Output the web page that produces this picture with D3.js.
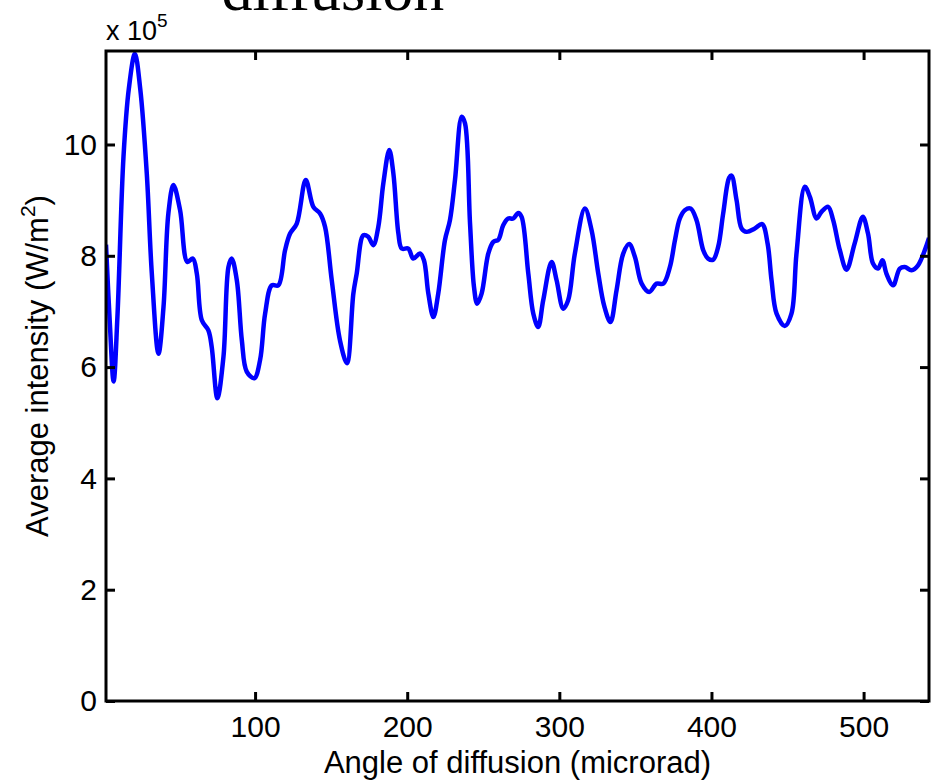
<!DOCTYPE html>
<html>
<head>
<meta charset="utf-8">
<script src="https://cdn.jsdelivr.net/npm/d3@7"></script>
<style>
  body { margin: 0; background: #fff; }
  svg text { font-family: "Liberation Sans", Arial, sans-serif; fill: #000; }
</style>
</head>
<body>
<div id="chart"></div>
<script>
// angle of diffusion (microrad)
var angles = [2.0, 4.5, 7.0, 9.5, 13.5, 17.0, 21.0, 24.5, 28.8, 32.1, 36.5, 39.8, 43.0, 46.3, 50.7,
  55.5, 59.1, 61.7, 65.0, 69.3, 71.5, 75.2, 79.2, 82.5, 84.6, 88.0, 91.3, 94.5, 99.5, 103.3,
  106.6, 111.0, 115.3, 119.7, 123.0, 127.4, 133.3, 138.3, 142.7, 146.0, 150.4, 155.8, 160.4, 164.6, 166.8,
  171.2, 174.4, 177.7, 181.0, 184.3, 188.2, 190.9, 194.2, 196.4, 200.7, 204.0, 208.4, 211.0, 213.9, 217.2,
  220.4, 224.8, 228.1, 231.4, 235.8, 238.0, 241.3, 243.9, 246.0, 248.9, 253.3, 256.6, 259.9, 263.1, 266.4,
  269.7, 273.0, 275.2, 279.6, 282.9, 286.1, 289.4, 294.9, 298.2, 302.6, 305.8, 310.2, 316.8, 321.2, 325.6,
  329.5, 333.6, 337.6, 342.0, 345.9, 349.7, 354.1, 359.1, 363.9, 368.3, 372.7, 376.0, 379.2, 382.5, 386.3,
  390.2, 394.6, 397.8, 401.1, 404.4, 407.7, 411.6, 413.2, 416.5, 419.8, 423.1, 428.5, 433.3, 436.9, 439.5,
  442.8, 448.2, 452.6, 455.9, 461.4, 464.7, 469.1, 472.3, 476.7, 480.0, 484.4, 488.8, 494.1, 499.5, 502.9,
  506.2, 509.5, 512.4, 515.0, 519.4, 523.8, 527.1, 531.5, 535.8, 541.8, 543.0];

// average intensity, in units of 10^5 W/m^2
var intensity = [8.20, 6.80, 5.74, 6.90, 9.78, 11.00, 11.63, 11.00, 9.48, 7.69, 6.24, 7.08, 8.76, 9.27, 8.82,
  7.89, 7.95, 7.68, 6.84, 6.66, 6.36, 5.44, 6.18, 7.80, 7.95, 7.56, 6.48, 5.92, 5.80, 6.13,
  6.96, 7.47, 7.47, 8.10, 8.40, 8.58, 9.36, 8.88, 8.76, 8.52, 7.56, 6.48, 6.07, 7.32, 7.68,
  8.37, 8.34, 8.19, 8.52, 9.30, 9.90, 9.48, 8.40, 8.13, 8.13, 7.95, 8.04, 7.92, 7.32, 6.90,
  7.32, 8.28, 8.64, 9.36, 10.50, 10.38, 8.58, 7.44, 7.14, 7.32, 8.04, 8.25, 8.29, 8.55, 8.67,
  8.67, 8.77, 8.70, 7.68, 6.96, 6.72, 7.20, 7.89, 7.56, 7.05, 7.20, 8.04, 8.85, 8.46, 7.68,
  7.10, 6.81, 7.38, 8.04, 8.21, 7.98, 7.50, 7.35, 7.50, 7.50, 7.80, 8.28, 8.67, 8.82, 8.85,
  8.64, 8.10, 7.95, 7.93, 8.16, 8.76, 9.40, 9.44, 9.00, 8.49, 8.43, 8.49, 8.57, 8.22, 7.56,
  6.96, 6.74, 6.96, 8.04, 9.24, 9.06, 8.67, 8.79, 8.88, 8.64, 8.10, 7.75, 8.22, 8.70, 8.40,
  7.86, 7.77, 7.92, 7.68, 7.47, 7.77, 7.80, 7.74, 7.83, 8.22, 8.32];

var xTicks = [100, 200, 300, 400, 500];
var yTicks = [0, 2, 4, 6, 8, 10];

var width = 936, height = 780;
var margin = {top: 51, right: 7, bottom: 79, left: 106};
var plotW = width - margin.left - margin.right,
    plotH = height - margin.top - margin.bottom;

var data = angles.map(function (a, i) {
  return {x: a, y: intensity[i]};
});

var xScale = d3.scaleLinear()
  .domain([2, 543])
  .range([0, plotW]);
var yScale = d3.scaleLinear()
  .domain([0, 11.68])
  .range([plotH, 0]);

var svg = d3.select("#chart").append("svg")
  .attr("width", width)
  .attr("height", height);

// title, cut off at the top of the figure
svg.append("text")
  .attr("x", 333)
  .attr("y", 10)
  .attr("text-anchor", "middle")
  .style("font-family", "'Liberation Serif', 'Times New Roman', serif")
  .style("font-size", "62px")
  .text("diffusion");

var g = svg.append("g")
  .attr("transform", "translate(" + margin.left + "," + margin.top + ")");

g.append("clipPath")
  .attr("id", "plot-clip")
  .append("rect")
    .attr("width", plotW)
    .attr("height", plotH);

var line = d3.line()
  .x(function (d) { return xScale(d.x); })
  .y(function (d) { return yScale(d.y); })
  .curve(d3.curveCatmullRom.alpha(0.5));

g.append("path")
  .datum(data)
  .attr("clip-path", "url(#plot-clip)")
  .attr("d", line)
  .attr("fill", "none")
  .attr("stroke", "#0000ff")
  .attr("stroke-width", 4.5)
  .attr("stroke-linejoin", "round");

// axes, ticks pointing inwards on all four sides
function styleAxis(sel) {
  sel.select(".domain").remove();
  sel.selectAll(".tick line").attr("stroke", "#000").attr("stroke-width", 3);
  sel.selectAll(".tick text").style("font-size", "30px");
}

g.append("g")
  .attr("transform", "translate(0," + plotH + ")")
  .call(d3.axisBottom(xScale).tickValues(xTicks).tickSizeInner(-9).tickPadding(15))
  .call(styleAxis);
g.append("g")
  .call(d3.axisTop(xScale).tickValues(xTicks).tickSizeInner(-9).tickFormat(""))
  .call(styleAxis);
g.append("g")
  .call(d3.axisLeft(yScale).tickValues(yTicks).tickSizeInner(-9).tickPadding(9))
  .call(styleAxis);
g.append("g")
  .attr("transform", "translate(" + plotW + ",0)")
  .call(d3.axisRight(yScale).tickValues(yTicks).tickSizeInner(-9).tickFormat(""))
  .call(styleAxis);

g.append("rect")
  .attr("width", plotW)
  .attr("height", plotH)
  .attr("fill", "none")
  .attr("stroke", "#000")
  .attr("stroke-width", 3);

// exponent label
var expo = svg.append("text")
  .attr("x", margin.left)
  .attr("y", 40)
  .style("font-size", "27px")
  .text("x 10");
expo.append("tspan")
  .attr("dy", -13)
  .style("font-size", "19px")
  .text("5");

svg.append("text")
  .attr("x", margin.left + plotW / 2)
  .attr("y", 773)
  .attr("text-anchor", "middle")
  .style("font-size", "31px")
  .text("Angle of diffusion (microrad)");

var yLabel = svg.append("text")
  .attr("transform", "translate(48," + 366 + ") rotate(-90)")
  .attr("text-anchor", "middle")
  .style("font-size", "31px")
  .text("Average intensity (W/m");
yLabel.append("tspan")
  .attr("dy", -13)
  .style("font-size", "21px")
  .text("2");
yLabel.append("tspan")
  .attr("dy", 13)
  .text(")");
</script>
</body>
</html>
